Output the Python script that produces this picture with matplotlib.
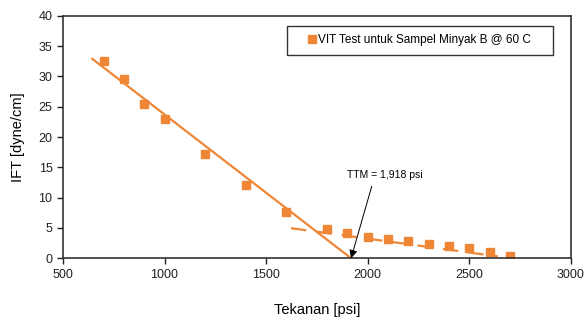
import matplotlib
matplotlib.use("Agg")
from matplotlib import pyplot as plt
from matplotlib.patches import Rectangle

plt.rcParams['font.family'] = ['Liberation Sans', 'DejaVu Sans']

# data
tekanan = [700, 800, 900, 1000, 1200, 1400, 1600, 1800, 1900, 2000,
           2100, 2200, 2300, 2400, 2500, 2600, 2700]
ift = [32.5, 29.5, 25.5, 22.9, 17.2, 12.1, 7.7, 4.8, 4.2, 3.5,
       3.1, 2.8, 2.4, 2.0, 1.7, 1.1, 0.3]

# trend lines (solid = steep part, dashed = tail)
trend1_x = [645, 1918]
trend1_y = [32.9, 0.0]
trend2_x = [1622, 2640]
trend2_y = [4.96, 0.3]

ttm = 1918
orange = '#EE8636'

fig = plt.figure(figsize=(5.88, 3.24), dpi=100)
ax = fig.add_axes([0.107, 0.203, 0.864, 0.748])

ax.plot(trend1_x, trend1_y, '-', color=orange, lw=1.6)
ax.plot(trend2_x, trend2_y, '--', color=orange, lw=1.6, dashes=(7, 4.5))
ax.plot(tekanan, ift, 's', color=orange, ms=5.5, ls='none',
        label='VIT Test untuk Sampel Minyak B @ 60 C')

ax.annotate('TTM = 1,918 psi', xy=(ttm, 0), xytext=(2085, 13.8),
            ha='center', va='center', fontsize=7.5,
            arrowprops=dict(arrowstyle='-|>', color='black', lw=0.7,
                            shrinkA=3, shrinkB=0, mutation_scale=12,
                            relpos=(0.35, 0)))

ax.set_xlim(500, 3000)
ax.set_ylim(0, 40)
ax.set_xticks([500, 1000, 1500, 2000, 2500, 3000])
ax.set_yticks(range(0, 41, 5))
ax.tick_params(direction='out', length=4, width=1, labelsize=9,
               colors='#222222')
for s in ax.spines.values():
    s.set_color('#333333')
    s.set_linewidth(1.2)

ax.set_xlabel('Tekanan [psi]', fontsize=10.5, labelpad=16)
ax.set_ylabel('IFT [dyne/cm]', fontsize=10.5, labelpad=10)

# legend with a wide box, entry centred in it
ax.legend(loc='center', bbox_to_anchor=(0.703, 0.900), fontsize=8.5,
          frameon=False, handlelength=0.6, handletextpad=0.2,
          borderpad=0, borderaxespad=0)
ax.add_patch(Rectangle((0.441, 0.840), 0.524, 0.120, transform=ax.transAxes,
                       fill=False, edgecolor='#333333', lw=1.0, zorder=5))

fig.savefig('out.png', dpi=100)
